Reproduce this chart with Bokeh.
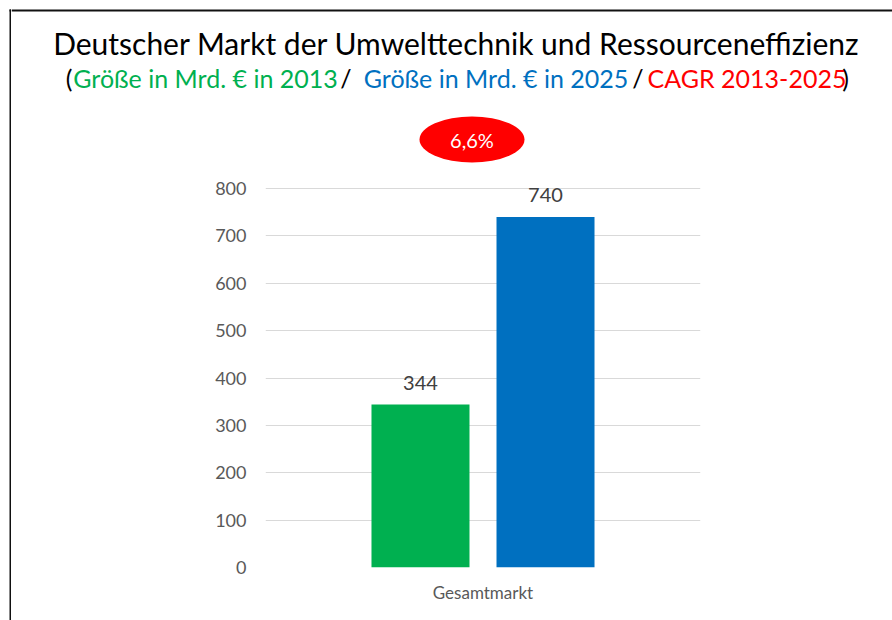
from bokeh.plotting import figure
from bokeh.layouts import column, row
from bokeh.models import FactorRange, Range1d, FixedTicker, ColumnDataSource
from bokeh.transform import dodge
from bokeh.core.properties import value
from bokeh.embed import file_html
from bokeh.resources import INLINE

# ---- data ----
categories = ["Gesamtmarkt"]
size_2013 = [344]
size_2025 = [740]
cagr_text = ["6,6%"]
y_ticks = [0, 100, 200, 300, 400, 500, 600, 700, 800]

title_text = ["Deutscher Markt der Umwelttechnik und Ressourceneffizienz"]
subtitle_parts = ["(", "Größe in Mrd. € in 2013", "/", "Größe in Mrd. € in 2025", "/", "CAGR 2013-2025", ")"]

# ---- styles ----
GREEN = "#00B050"
BLUE = "#0070C0"
RED = "#FF0000"
FONT = "Lato"
FRAME_COLOR = "#111111"
subtitle_colors = ["#000000", GREEN, "#000000", BLUE, "#000000", RED, "#000000"]
subtitle_centers_px = [68.5, 205, 345.5, 495.5, 637.5, 746.5, 845]

PAGE_W, PAGE_H = 892, 620
STRIP_W = 11
HEAD_H = 111


def bare(fig):
    fig.axis.visible = False
    fig.grid.grid_line_color = None
    fig.outline_line_color = None
    fig.frame_align = False
    return fig


# ---- left strip (border line), coordinates = page pixels ----
strip = bare(figure(x_range=Range1d(0, STRIP_W), y_range=Range1d(PAGE_H, 0),
                    width=STRIP_W, height=PAGE_H, output_backend="svg", toolbar_location=None,
                    min_border=0, min_border_left=0, min_border_right=0,
                    min_border_top=0, min_border_bottom=0))
strip.segment(x0=[10], y0=[9], x1=[10], y1=[PAGE_H], line_color=FRAME_COLOR, line_width=2)
strip.segment(x0=[9], y0=[10], x1=[STRIP_W], y1=[10], line_color=FRAME_COLOR, line_width=2)

# ---- header figure (titles), coordinates = page pixels ----
head = bare(figure(x_range=Range1d(STRIP_W, PAGE_W), y_range=Range1d(HEAD_H, 0),
                   width=PAGE_W - STRIP_W, height=HEAD_H, output_backend="svg",
                   toolbar_location=None,
                   min_border=0, min_border_left=0, min_border_right=0,
                   min_border_top=0, min_border_bottom=0))
head.segment(x0=[STRIP_W], y0=[10], x1=[PAGE_W], y1=[10], line_color=FRAME_COLOR, line_width=2)
head.text(x=[456], y=[42], text=title_text, text_align="center", text_baseline="middle",
          text_color="#000000", text_font=value(FONT), text_font_size="30px")
head.text(x=subtitle_centers_px, y=[77] * len(subtitle_parts), text=subtitle_parts,
          text_color=subtitle_colors, text_align="center", text_baseline="middle",
          text_font=value(FONT), text_font_size="25px")

# ---- chart figure ----
src = ColumnDataSource(dict(
    cat=categories,
    v13=size_2013,
    v25=size_2025,
    t13=[str(v) for v in size_2013],
    t25=[str(v) for v in size_2025],
))

FRAME_TOP = HEAD_H
FRAME_BOT = 567
FRAME_L, FRAME_R = 265, 700
PX_PER_UNIT = 0.47375
p = figure(x_range=FactorRange(*categories),
           y_range=Range1d(0, (FRAME_BOT - FRAME_TOP) / PX_PER_UNIT),
           width=PAGE_W - STRIP_W, height=PAGE_H - HEAD_H,
           output_backend="svg", toolbar_location=None,
           min_border_left=FRAME_L - STRIP_W,
           min_border_right=PAGE_W - FRAME_R,
           min_border_top=0,
           min_border_bottom=PAGE_H - FRAME_BOT)
p.frame_align = False
p.outline_line_color = None


def xs(px):
    return (px - FRAME_L) / (FRAME_R - FRAME_L)


def ys(py):
    return (FRAME_BOT - py) / PX_PER_UNIT


OFF = 0.1437
W = 0.2253
p.vbar(x=dodge("cat", -OFF, range=p.x_range), top="v13", width=W, source=src,
       fill_color=GREEN, line_color=None)
p.vbar(x=dodge("cat", OFF, range=p.x_range), top="v25", width=W, source=src,
       fill_color=BLUE, line_color=None)

for col, tcol, off in (("v13", "t13", -OFF), ("v25", "t25", OFF)):
    p.text(x=dodge("cat", off, range=p.x_range), y=col, text=tcol, source=src,
           y_offset=-22, text_align="center", text_baseline="alphabetic",
           text_color="#404040", text_font=value(FONT), text_font_size="20px")

# CAGR bubble
p.ellipse(x=[xs(471.5)], y=[ys(139)], width=105, height=46,
          width_units="screen", height_units="screen",
          fill_color=RED, line_color=None)
p.text(x=[xs(471.5)], y=[ys(139)], text=cagr_text, text_align="center",
       text_baseline="middle", text_color="white",
       text_font=value(FONT), text_font_size="20px")

# axes
p.yaxis.ticker = FixedTicker(ticks=y_ticks)
p.ygrid.ticker = FixedTicker(ticks=y_ticks)
p.ygrid.grid_line_color = "#D9D9D9"
p.xgrid.grid_line_color = None
for ax in (p.xaxis, p.yaxis):
    ax.axis_line_color = None
    ax.major_tick_line_color = None
    ax.minor_tick_line_color = None
    ax.major_label_text_color = "#595959"
    ax.major_label_text_font = FONT
p.yaxis.major_label_text_font_size = "18px"
p.yaxis.major_label_standoff = 13
p.xaxis.major_label_text_font_size = "17px"
p.xaxis.major_label_standoff = 8

layout = row(strip, column(head, p, spacing=0), spacing=0)

open("out.html", "w").write(file_html(layout, INLINE))
